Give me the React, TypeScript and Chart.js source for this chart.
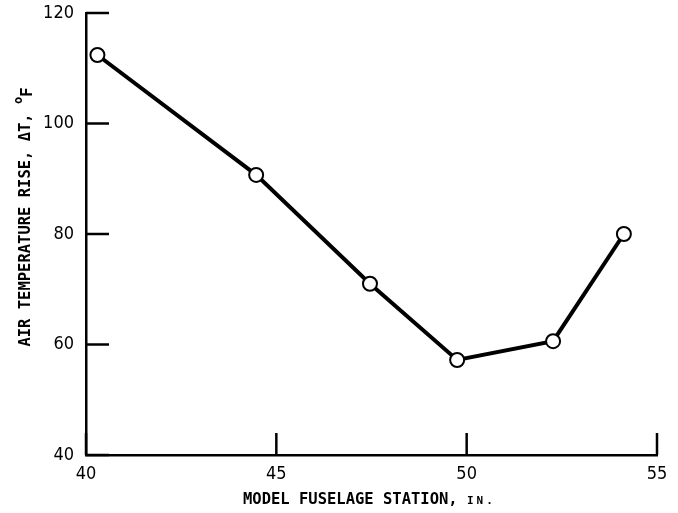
import { useEffect, useRef } from "react";
import { Chart, registerables } from "chart.js";

Chart.register(...registerables);

const stations = [40.3, 44.47, 47.46, 49.75, 52.27, 54.13];
const tempRise = [112.4, 90.7, 71.0, 57.2, 60.6, 80.0];
const xTickValues = [40, 45, 50, 55];
const yTickValues = [40, 60, 80, 100, 120];
const xTitleMain = "MODEL FUSELAGE STATION, ";
const xTitleSmall = "IN.";
const yTitleMain = "AIR TEMPERATURE RISE, \u0394T, ";
const yTitleSup = "o";
const yTitleUnit = "F";

const TICK_FONT = "'Liberation Sans Narrow', 'DejaVu Sans Condensed', sans-serif";
const TITLE_FONT = "'DejaVu Sans Mono', 'Liberation Mono', monospace";

const decorPlugin = {
  id: "decor",
  afterDraw(chart: any) {
    const { ctx, chartArea, scales } = chart;
    const xs = scales.x;
    const ys = scales.y;
    ctx.save();
    ctx.strokeStyle = "#000";
    ctx.lineWidth = 2.5;
    ctx.lineCap = "butt";
    xTickValues.forEach((v) => {
      const px = xs.getPixelForValue(v);
      ctx.beginPath();
      ctx.moveTo(px, chartArea.bottom);
      ctx.lineTo(px, chartArea.bottom - 22);
      ctx.stroke();
    });
    yTickValues.forEach((v) => {
      const py = ys.getPixelForValue(v);
      ctx.beginPath();
      ctx.moveTo(chartArea.left, py);
      ctx.lineTo(chartArea.left + 23, py);
      ctx.stroke();
    });
    ctx.fillStyle = "#000";
    ctx.textBaseline = "alphabetic";
    ctx.textAlign = "left";
    // x title
    const sx = 243;
    ctx.font = `bold 15.5px ${TITLE_FONT}`;
    const w1 = ctx.measureText(xTitleMain).width;
    ctx.fillText(xTitleMain, sx, 504);
    ctx.font = `bold 11px ${TITLE_FONT}`;
    (ctx as any).letterSpacing = "3px";
    ctx.fillText(xTitleSmall, sx + w1, 504);
    (ctx as any).letterSpacing = "0px";
    // y title
    ctx.translate(30, 217);
    ctx.rotate(-Math.PI / 2);
    ctx.font = `bold 15.5px ${TITLE_FONT}`;
    const m = ctx.measureText(yTitleMain).width;
    ctx.font = `bold 12px ${TITLE_FONT}`;
    const s = ctx.measureText(yTitleSup).width;
    ctx.font = `bold 15.5px ${TITLE_FONT}`;
    const u = ctx.measureText(yTitleUnit).width;
    const total = m + s + u;
    const ty = -total / 2;
    ctx.fillText(yTitleMain, ty, 0);
    ctx.font = `bold 12px ${TITLE_FONT}`;
    ctx.fillText(yTitleSup, ty + m, -8);
    ctx.font = `bold 15.5px ${TITLE_FONT}`;
    ctx.fillText(yTitleUnit, ty + m + s, 2);
    ctx.restore();
  },
};

export default function App() {
  const canvasRef = useRef<HTMLCanvasElement | null>(null);

  useEffect(() => {
    if (!canvasRef.current) return;
    const chart = new Chart(canvasRef.current, {
      type: "line",
      data: {
        datasets: [
          {
            data: stations.map((x, i) => ({ x, y: tempRise[i] })),
            borderColor: "#000",
            borderWidth: 4,
            pointRadius: 7,
            pointBorderWidth: 2,
            pointBackgroundColor: "#fff",
            pointBorderColor: "#000",
            tension: 0,
          },
        ],
      },
      options: {
        animation: false,
        responsive: false,
        devicePixelRatio: 1,
        layout: { padding: { left: 0, top: 13, right: 21, bottom: 0 } },
        plugins: {
          legend: { display: false },
          tooltip: { enabled: false },
        },
        scales: {
          x: {
            type: "linear",
            min: 40,
            max: 55,
            afterFit: (sc: any) => {
              sc.height = 58;
              sc.paddingLeft = 0;
              sc.paddingRight = 0;
            },
            afterBuildTicks: (sc: any) => {
              sc.ticks = xTickValues.map((v) => ({ value: v }));
            },
            grid: { display: false },
            border: { display: true, color: "#000", width: 2.5 },
            ticks: {
              color: "#000",
              padding: 1,
              font: { family: TICK_FONT, size: 18 },
            },
          },
          y: {
            type: "linear",
            min: 40,
            max: 120,
            afterFit: (sc: any) => {
              sc.width = 86;
              sc.paddingTop = 0;
              sc.paddingBottom = 0;
            },
            afterBuildTicks: (sc: any) => {
              sc.ticks = yTickValues.map((v) => ({ value: v }));
            },
            grid: { display: false },
            border: { display: true, color: "#000", width: 2.5 },
            ticks: {
              color: "#000",
              padding: 4,
              font: { family: TICK_FONT, size: 18 },
            },
          },
        },
      },
      plugins: [decorPlugin],
    });
    return () => chart.destroy();
  }, []);

  return (
    <div style={{ position: "fixed", left: 0, top: 0, width: 678, height: 513, background: "#fff" }}>
      <canvas ref={canvasRef} width={678} height={513} style={{ width: 678, height: 513 }} />
    </div>
  );
}
